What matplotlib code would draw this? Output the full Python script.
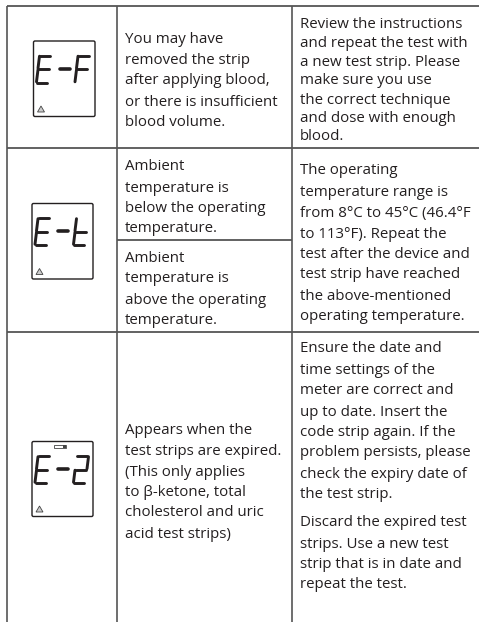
import matplotlib
matplotlib.use("Agg")
import matplotlib.pyplot as plt
from matplotlib.patches import FancyBboxPatch, Polygon

W, H = 479, 622
LINE = "#555555"
INK = "#231f20"

# table rules
col_x = [7.5, 117.5, 292.5]
row_y = [6, 147.5, 332]
sub_row_y = 239.5

# text: (x, line centres, lines)
col2_x = 125
col3_x = 300
cell_text = [
    (col2_x, [37.5, 58.5, 79, 100, 120],
     ["You may have", "removed the strip", "after applying blood,", "or there is insufficient", "blood volume."]),
    (col2_x, [165, 186, 206, 227],
     ["Ambient", "temperature is", "below the operating", "temperature."]),
    (col2_x, [257, 277, 298, 319],
     ["Ambient", "temperature is", "above the operating", "temperature."]),
    (col2_x, [428, 449.5, 470, 490, 511, 532],
     ["Appears when the", "test strips are expired.", "(This only applies", "to β-ketone, total", "cholesterol and uric", "acid test strips)"]),
    (col3_x, [22.5, 41.5, 61, 79, 98, 117, 135],
     ["Review the instructions", "and repeat the test with", "a new test strip. Please", "make sure you use",
      "the correct technique", "and dose with enough", "blood."]),
    (col3_x, [169, 190, 211, 232, 252, 273, 294, 315],
     ["The operating", "temperature range is", "from 8°C to 45°C (46.4°F", "to 113°F). Repeat the",
      "test after the device and", "test strip have reached", "the above-mentioned", "operating temperature."]),
    (col3_x, [347, 368, 388, 410, 431, 451, 472, 493],
     ["Ensure the date and", "time settings of the", "meter are correct and", "up to date. Insert the",
      "code strip again. If the", "problem persists, please", "check the expiry date of", "the test strip."]),
    (col3_x, [521, 542, 563, 583],
     ["Discard the expired test", "strips. Use a new test", "strip that is in date and", "repeat the test."]),
]

# display boxes: left, top, right, bottom, segments of the last glyph
displays = [
    (33.5, 41, 95, 116.5, "afge"),
    (32, 203.5, 93, 279, "fged"),
    (32, 441.5, 93, 516.5, "abged"),
]
SEGMENTS = {
    "a": ((0, 0), (1, 0)), "b": ((1, 0), (1, .5)), "c": ((1, .5), (1, 1)),
    "d": ((0, 1), (1, 1)), "e": ((0, .5), (0, 1)), "f": ((0, 0), (0, .5)),
    "g": ((0, .5), (1, .5)),
}


def draw_glyph(ax, x, y, segs, w=12, h=27, skew=3):
    for s in segs:
        (x0, y0), (x1, y1) = SEGMENTS[s]
        # small gaps between segments, as on an lcd
        gx, gy = (x1 - x0) * 1.0, (y1 - y0) * 1.4
        xa = x + x0 * w + (1 - y0) * skew + gx
        xb = x + x1 * w + (1 - y1) * skew - gx
        ax.plot([xa, xb], [y + y0 * h + gy, y + y1 * h - gy],
                color=INK, lw=2.1, solid_capstyle="round")


def draw_display(ax, left, top, right, bottom, last, battery=False):
    ax.add_patch(FancyBboxPatch((left + 1, top + 1), right - left - 2, bottom - top - 2,
                                boxstyle="round,pad=1,rounding_size=1.5",
                                fc="white", ec=INK, lw=1.0))
    draw_glyph(ax, left + 3, top + 14.5, "afged")
    ax.plot([left + 26.5, left + 36.5], [top + 27.5, top + 27.5], color=INK, lw=2.6, solid_capstyle="round")
    draw_glyph(ax, left + 41.5, top + 14.5, last)
    # warning triangle
    tx, ty = left + 7.5, bottom - 4.5
    ax.add_patch(Polygon([(tx - 3.5, ty), (tx + 3.5, ty), (tx, ty - 6)], fc="#cccccc", ec="#444444", lw=0.6))
    if battery:
        ax.add_patch(plt.Rectangle((left + 22, top + 3.5), 12, 3, fc="white", ec="#444444", lw=0.6))
        ax.add_patch(plt.Rectangle((left + 31, top + 3.5), 3, 3, fc="#444444", ec="none"))


fig = plt.figure(figsize=(W / 100, H / 100), dpi=100)
ax = fig.add_axes([0, 0, 1, 1])
ax.set_xlim(0, W)
ax.set_ylim(H, 0)
ax.axis("off")

for x in col_x:
    ax.plot([x, x], [row_y[0], H], color=LINE, lw=1.2, solid_capstyle="butt")
for y in row_y:
    ax.plot([col_x[0], W], [y, y], color=LINE, lw=1.3, solid_capstyle="butt")
ax.plot([col_x[1], col_x[2]], [sub_row_y, sub_row_y], color=LINE, lw=1.3, solid_capstyle="butt")

for i, (left, top, right, bottom, last) in enumerate(displays):
    draw_display(ax, left, top, right, bottom, last, battery=i == 2)

for x, ys, lines in cell_text:
    for y, line in zip(ys, lines):
        ax.text(x, y, line, ha="left", va="center_baseline", fontsize=10.8,
                family="Open Sans", color=INK)

fig.savefig("out.png", dpi=100)
